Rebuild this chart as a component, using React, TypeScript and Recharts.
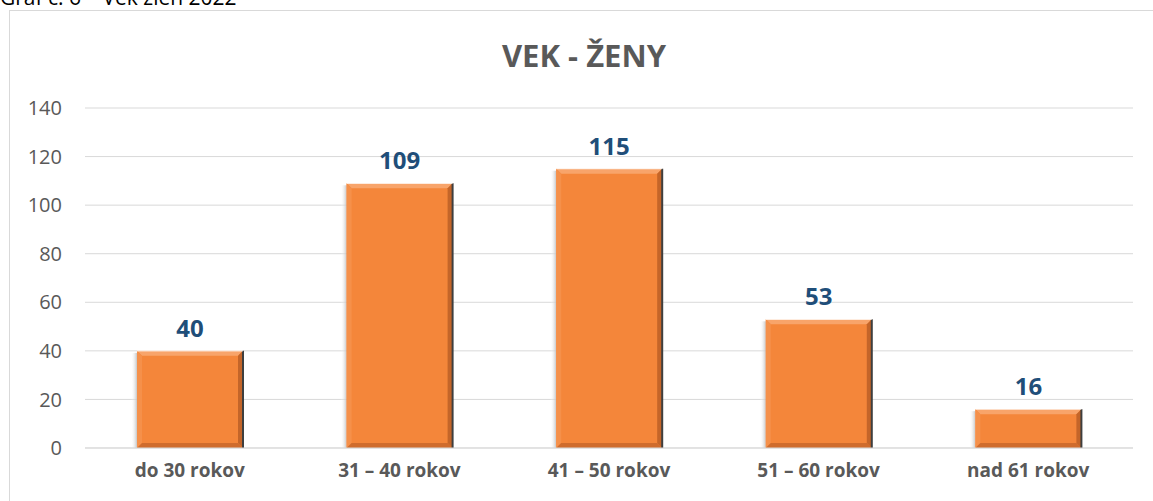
import React from "react";
import { BarChart, Bar, XAxis, YAxis, CartesianGrid, LabelList } from "recharts";

const categories = ["do 30 rokov", "31 – 40 rokov", "41 – 50 rokov", "51 – 60 rokov", "nad 61 rokov"];
const counts = [40, 109, 115, 53, 16];
const yTicks = [0, 20, 40, 60, 80, 100, 120, 140];

const data = categories.map((name, i) => ({ name, value: counts[i] }));

const FONT = "'Open Sans', 'Liberation Sans', sans-serif";

const BevelBar = (props: any) => {
  const { x, y, width, height } = props;
  if (!height || height <= 0) return null;
  const b = 5;
  return (
    <g>
      {/* soft shadow to the left */}
      <rect x={x - 6} y={y + 2} width={6} height={height - 2} fill="url(#shadowL)" />
      <rect x={x} y={y} width={width} height={height} fill="#F4863A" />
      {/* bevel edges */}
      <polygon points={`${x},${y} ${x + width},${y} ${x + width - b},${y + b} ${x + b},${y + b}`} fill="#F8A46A" />
      <polygon points={`${x},${y} ${x + b},${y + b} ${x + b},${y + height - b} ${x},${y + height}`} fill="#F5904A" />
      <polygon points={`${x},${y + height} ${x + b},${y + height - b} ${x + width - b},${y + height - b} ${x + width},${y + height}`} fill="#CF6C2D" />
      <polygon points={`${x + width},${y} ${x + width},${y + height} ${x + width - b},${y + height - b} ${x + width - b},${y + b}`} fill="#C46529" />
      <line x1={x + width} y1={y} x2={x + width} y2={y + height} stroke="#3F3F3F" strokeWidth={2} />
      <line x1={x} y1={y} x2={x + width} y2={y} stroke="#FFFFFF" strokeWidth={1} />
    </g>
  );
};

export default function App() {
  return (
    <div style={{ position: "absolute", left: 0, top: 0, width: 1153, height: 501, background: "#fff", overflow: "hidden", fontFamily: FONT }}>
      <div style={{ position: "absolute", left: 0, top: -17, fontSize: 21, color: "#000", whiteSpace: "nowrap" }}>
        Graf č. 6 – Vek žien 2022
      </div>
      <div style={{ position: "absolute", left: 9, top: 10, width: 1160, height: 520, borderLeft: "1px solid #D9D9D9", borderTop: "1px solid #D9D9D9" }} />
      <div style={{ position: "absolute", left: 0, width: 1168, top: 34, textAlign: "center", fontSize: 31, fontWeight: 700, color: "#595959" }}>
        VEK - ŽENY
      </div>
      <div style={{ position: "absolute", left: 0, top: 0 }}>
        <BarChart width={1153} height={501} data={data} margin={{ top: 108, right: 20, bottom: 23, left: 0 }}>
          <defs>
            <linearGradient id="shadowL" x1="0" y1="0" x2="1" y2="0">
              <stop offset="0%" stopColor="#FFFFFF" stopOpacity={0} />
              <stop offset="100%" stopColor="#BFBFBF" stopOpacity={0.9} />
            </linearGradient>
          </defs>
          <CartesianGrid vertical={false} stroke="#D9D9D9" strokeWidth={1} />
          <XAxis
            dataKey="name"
            axisLine={{ stroke: "#D9D9D9" }}
            tickLine={false}
            tickSize={0}
            tickMargin={16}
            tick={{ fill: "#595959", fontSize: 19, fontWeight: 700, fontFamily: FONT }}
          />
          <YAxis
            domain={[0, 140]}
            ticks={yTicks}
            width={85}
            axisLine={false}
            tickLine={false}
            tickSize={0}
            tickMargin={23}
            tick={{ fill: "#595959", fontSize: 20, fontFamily: FONT }}
          />
          <Bar dataKey="value" shape={<BevelBar />} isAnimationActive={false} barSize={106}>
            <LabelList dataKey="value" position="top" offset={14} style={{ fill: "#1F4E79", fontSize: 24, fontWeight: 700, fontFamily: FONT }} />
          </Bar>
        </BarChart>
      </div>
    </div>
  );
}
